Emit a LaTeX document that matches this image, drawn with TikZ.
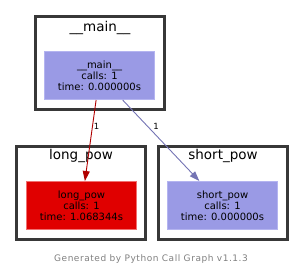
\documentclass[tikz,border=0pt]{standalone}
\usepackage{fontspec}
\setmainfont{DejaVu Sans}
\newfontfamily\piefont[LetterSpace=6]{DejaVu Sans}
\usetikzlibrary{arrows.meta}
\definecolor{marco}{HTML}{383838}
\definecolor{lila}{HTML}{9A9AE5}
\definecolor{lilaborde}{HTML}{B4B4F0}
\definecolor{rojo}{HTML}{E00000}
\definecolor{rojoborde}{HTML}{F07070}
\definecolor{flecharoja}{HTML}{B00000}
\definecolor{flechalila}{HTML}{7474B4}
\tikzset{
    grupo/.style={draw=marco, line width=3pt, minimum width=129pt, minimum height=93pt, inner sep=0pt},
    titulo/.style={font=\fontsize{13.5}{15}\selectfont},
    funcion/.style={minimum width=110pt, minimum height=48pt, inner sep=0pt, line width=1pt, align=center, font=\fontsize{10}{11}\selectfont},
    llamada/.style={line width=0.9pt, -{Triangle[length=10pt,width=7pt]}},
    cuenta/.style={font=\fontsize{8.5}{9}\selectfont, right, inner sep=1pt}
}
\begin{document}
\begin{tikzpicture}[x=1pt, y=-1pt]
        \useasboundingbox (0,0) rectangle (304,277);
        
        % Grupos
        \node[grupo] (gmain) at (100,63) {};
        \node[grupo] (glong) at (81,192.5) {};
        \node[grupo] (gshort) at (223,192.5) {};
        \node[titulo] (tmain) at (100,28) {\_\_main\_\_};
        \node[titulo] (tlong) at (81,156) {long\_pow};
        \node[titulo] (tshort) at (223,156) {short\_pow};
        
        % Funciones
        \node[funcion, fill=lila, draw=lilaborde] (fmain) at (99.5,75.5) {\_\_main\_\_\\calls: 1\\time: 0.000000s};
        \node[funcion, fill=rojo, draw=rojoborde] (flong) at (81.5,205.5) {long\_pow\\calls: 1\\time: 1.068344s};
        \node[funcion, fill=lila, draw=lilaborde] (fshort) at (222.5,205.5) {short\_pow\\calls: 1\\time: 0.000000s};
        
        % Llamadas
        \draw[llamada, flecharoja] (fmain) -- node[cuenta, pos=0.33, text=black] {1} (flong);
        \draw[llamada, flechalila] (fmain) -- node[cuenta, pos=0.33, text=black, xshift=4pt] {1} (fshort);
        
        \node[text=gray, font=\piefont\fontsize{9}{10}\selectfont] (pie) at (151,259) {Generated by Python Call Graph v1.1.3};
\end{tikzpicture}
\end{document}
